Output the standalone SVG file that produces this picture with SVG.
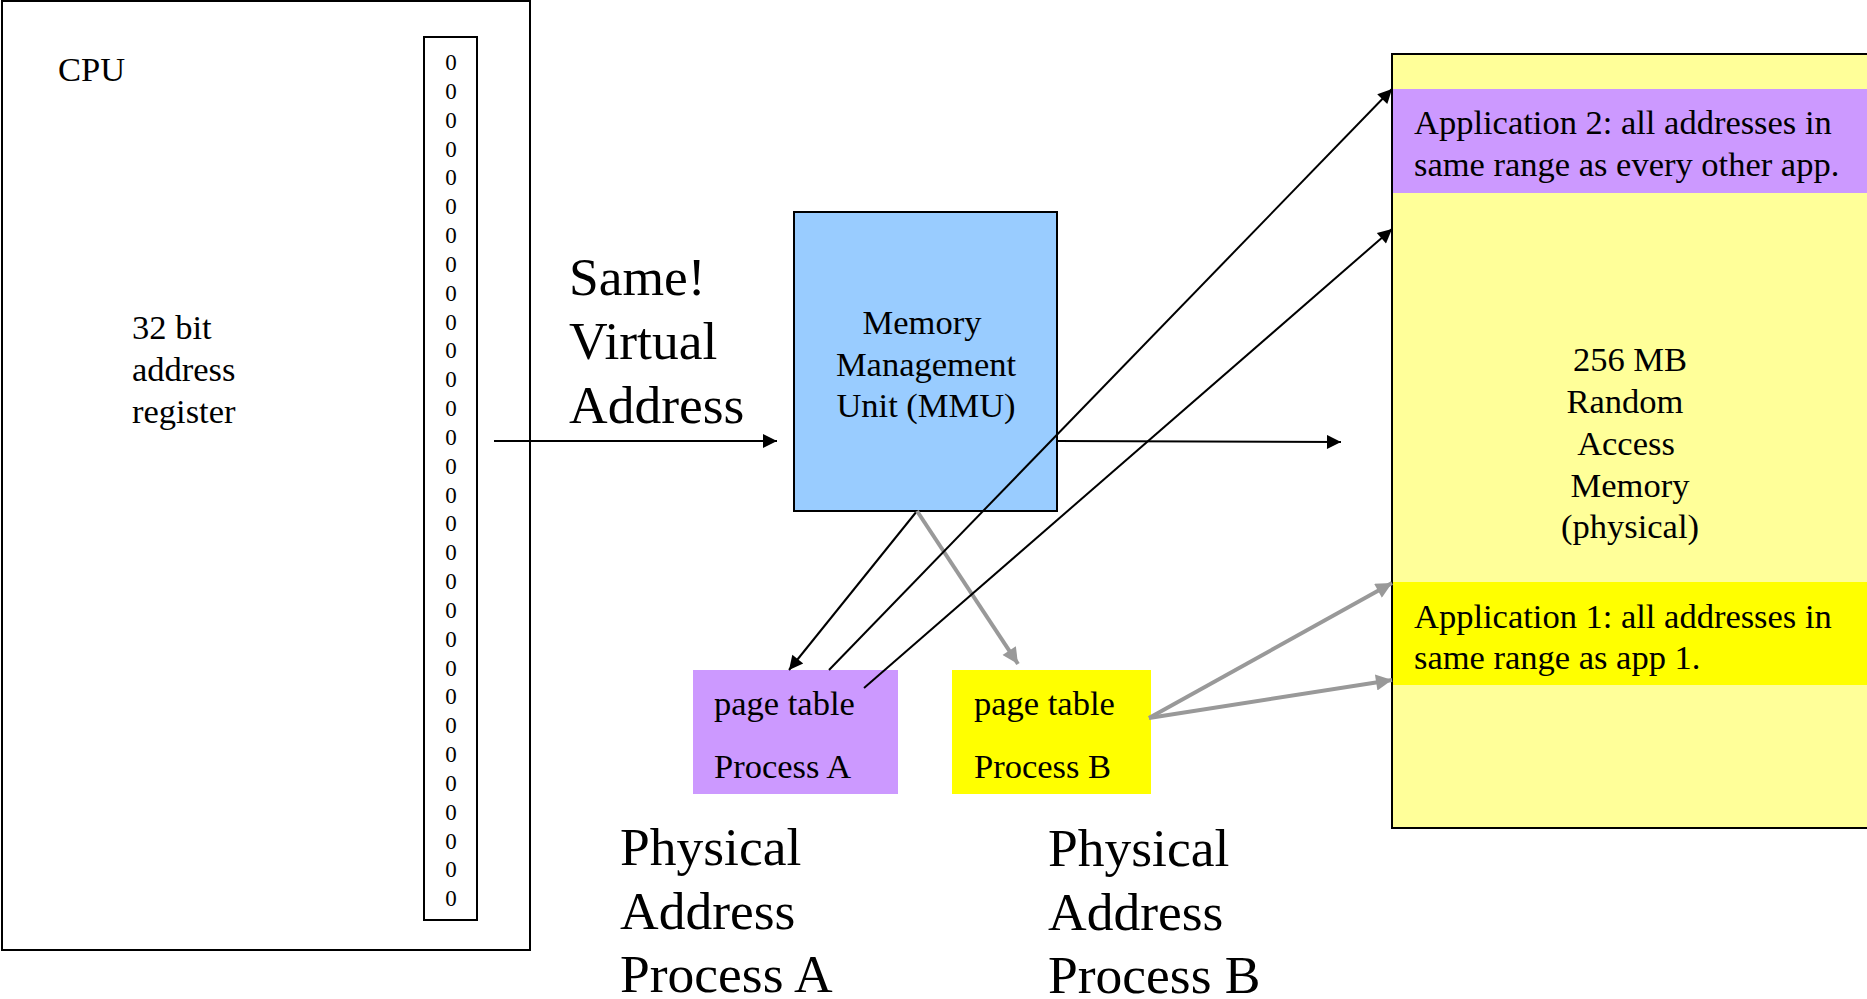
<svg xmlns="http://www.w3.org/2000/svg" width="1867" height="999" viewBox="0 0 1867 999">
<defs>
<style>
text{font-family:"Liberation Serif","Times New Roman",serif;fill:#000}
.s{font-size:34.5px}
.l{font-size:53.5px}
.z{font-size:23px;text-anchor:middle}
.c{text-anchor:middle}
.bl{stroke:#000;stroke-width:2;fill:none}
.gr{stroke:#999;stroke-width:4;fill:none}
</style>
<marker id="ab" viewBox="0 0 10 10" refX="10" refY="5" markerWidth="16" markerHeight="14" markerUnits="userSpaceOnUse" orient="auto"><path d="M0,0 L10,5 L0,10 Z" fill="#000"/></marker>
<marker id="ag" viewBox="0 0 10 10" refX="10" refY="5" markerWidth="18" markerHeight="16" markerUnits="userSpaceOnUse" orient="auto"><path d="M0,0 L10,5 L0,10 Z" fill="#999"/></marker>
</defs>
<rect width="1867" height="999" fill="#fff"/>
<g id="cpu">
<rect x="2" y="1" width="528" height="949" fill="#fff" stroke="#000" stroke-width="2"/>
<text class="s" x="58" y="81">CPU</text>
<text class="s" x="132" y="339">32 bit</text>
<text class="s" x="132" y="381">address</text>
<text class="s" x="132" y="423">register</text>
</g>
<g id="register">
<rect x="424" y="37" width="53" height="883" fill="none" stroke="#000" stroke-width="2"/>
<g class="z">
<text x="451" y="70">0</text><text x="451" y="99">0</text><text x="451" y="128">0</text><text x="451" y="157">0</text><text x="451" y="185">0</text><text x="451" y="214">0</text><text x="451" y="243">0</text><text x="451" y="272">0</text><text x="451" y="301">0</text><text x="451" y="330">0</text><text x="451" y="358">0</text><text x="451" y="387">0</text><text x="451" y="416">0</text><text x="451" y="445">0</text><text x="451" y="474">0</text><text x="451" y="503">0</text><text x="451" y="531">0</text><text x="451" y="560">0</text><text x="451" y="589">0</text><text x="451" y="618">0</text><text x="451" y="647">0</text><text x="451" y="676">0</text><text x="451" y="704">0</text><text x="451" y="733">0</text><text x="451" y="762">0</text><text x="451" y="791">0</text><text x="451" y="820">0</text><text x="451" y="849">0</text><text x="451" y="877">0</text><text x="451" y="906">0</text>
</g>
</g>
<g id="virtual-label">
<text class="l" x="569" y="295">Same!</text>
<text class="l" x="569" y="359">Virtual</text>
<text class="l" x="569" y="423">Address</text>
</g>
<g id="mmu">
<rect x="794" y="212" width="263" height="299" fill="#99ccff" stroke="#000" stroke-width="2"/>
<text class="s c" x="922" y="334">Memory</text>
<text class="s c" x="926" y="376">Management</text>
<text class="s c" x="926" y="417">Unit (MMU)</text>
</g>
<g id="ram">
<rect x="1392" y="54" width="490" height="774" fill="#ffff99" stroke="#000" stroke-width="2"/>
<rect x="1393" y="89" width="480" height="104" fill="#cc99ff"/>
<text class="s" x="1414" y="134">Application 2: all addresses in</text>
<text class="s" x="1414" y="176">same range as every other app.</text>
<text class="s c" x="1630" y="371">256 MB</text>
<text class="s c" x="1625" y="413">Random</text>
<text class="s c" x="1626" y="455">Access</text>
<text class="s c" x="1630" y="497">Memory</text>
<text class="s c" x="1630" y="538">(physical)</text>
<rect x="1393" y="582" width="480" height="103" fill="#ffff00"/>
<text class="s" x="1414" y="628">Application 1: all addresses in</text>
<text class="s" x="1414" y="669">same range as app 1.</text>
</g>
<g id="pagetable-a">
<rect x="693" y="670" width="205" height="124" fill="#cc99ff"/>
<text class="s" x="714" y="715">page table</text>
<text class="s" x="714" y="778">Process A</text>
</g>
<g id="pagetable-b">
<rect x="952" y="670" width="199" height="124" fill="#ffff00"/>
<text class="s" x="974" y="715">page table</text>
<text class="s" x="974" y="778">Process B</text>
</g>
<g id="phys-a">
<text class="l" x="620" y="865">Physical</text>
<text class="l" x="620" y="929">Address</text>
<text class="l" x="620" y="992">Process A</text>
</g>
<g id="phys-b">
<text class="l" x="1048" y="866">Physical</text>
<text class="l" x="1048" y="930">Address</text>
<text class="l" x="1048" y="993">Process B</text>
</g>
<g id="connectors">
<line class="bl" x1="494" y1="441" x2="777" y2="441" marker-end="url(#ab)"/>
<line class="bl" x1="1057" y1="441" x2="1341" y2="442" marker-end="url(#ab)"/>
<line class="bl" x1="917" y1="511" x2="789" y2="670" marker-end="url(#ab)"/>
<line class="gr" x1="917" y1="511" x2="1018" y2="664" marker-end="url(#ag)"/>
<line class="bl" x1="829" y1="670" x2="1392" y2="89" marker-end="url(#ab)"/>
<line class="bl" x1="864" y1="688" x2="1392" y2="229" marker-end="url(#ab)"/>
<line class="gr" x1="1149" y1="718" x2="1392" y2="583" marker-end="url(#ag)"/>
<line class="gr" x1="1149" y1="718" x2="1392" y2="680" marker-end="url(#ag)"/>
</g>
</svg>
